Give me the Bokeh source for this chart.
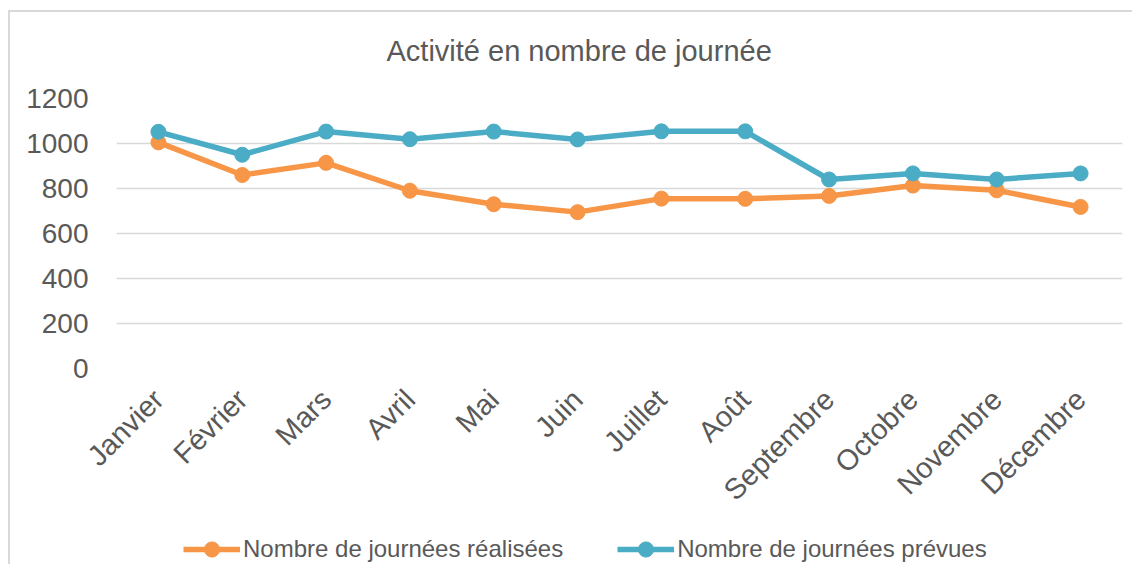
import math
from bokeh.plotting import figure
from bokeh.layouts import column
from bokeh.models import (ColumnDataSource, Range1d, FixedTicker, Legend, LegendItem)
from bokeh.embed import file_html
from bokeh.resources import INLINE

months = ["Janvier", "Février", "Mars", "Avril", "Mai", "Juin", "Juillet", "Août",
          "Septembre", "Octobre", "Novembre", "Décembre"]
realisees = [1005, 860, 914, 790, 730, 695, 755, 754, 767, 813, 792, 718]
prevues = [1052, 950, 1053, 1019, 1053, 1018, 1054, 1054, 840, 867, 840, 867]
y_ticks = [0, 200, 400, 600, 800, 1000, 1200]

title_text = "Activité en nombre de journée"
name_real = "Nombre de journées réalisées"
name_prev = "Nombre de journées prévues"

ORANGE = "#F79646"
BLUE = "#4BACC6"
TXT = "#595959"
FONT = "Liberation Sans"

src = ColumnDataSource(dict(m=months, r=realisees, p=prevues))

p = figure(x_range=months, y_range=Range1d(0, 1200), width=1132, height=520,
           output_backend="svg", toolbar_location=None,
           min_border_left=116, min_border_right=10, min_border_top=98, min_border_bottom=152)
p.outline_line_color = None
p.border_fill_color = None
p.background_fill_color = None
p.x_range.range_padding = 0

p.title.text = title_text
p.title.align = "left"
p.title.offset = 270
p.title.standoff = 64
p.title.text_font = FONT
p.title.text_font_size = "29px"
p.title.text_font_style = "normal"
p.title.text_color = TXT

p.yaxis.ticker = FixedTicker(ticks=y_ticks)
p.yaxis.axis_line_color = None
p.yaxis.major_tick_line_color = None
p.yaxis.minor_tick_line_color = None
p.yaxis.major_label_text_font = FONT
p.yaxis.major_label_text_font_size = "28px"
p.yaxis.major_label_text_color = TXT
p.yaxis.major_label_standoff = 22

p.xaxis.axis_line_color = None
p.xaxis.major_tick_line_color = None
p.xaxis.major_label_orientation = math.pi / 4
p.xaxis.major_label_text_font = FONT
p.xaxis.major_label_text_font_size = "29px"
p.xaxis.major_label_text_color = TXT
p.xaxis.major_label_standoff = 20

p.xgrid.grid_line_color = None
p.ygrid.grid_line_color = "#D9D9D9"
p.ygrid.grid_line_width = 1.5

p.line("m", "r", source=src, line_color=ORANGE, line_width=5.5)
p.scatter("m", "r", source=src, size=15, fill_color=ORANGE, line_color=ORANGE)
p.line("m", "p", source=src, line_color=BLUE, line_width=5.5)
p.scatter("m", "p", source=src, size=15, fill_color=BLUE, line_color=BLUE)

# legend strip (its frame is aligned with the main frame by the column layout)
lg = figure(width=1132, height=44, x_range=Range1d(0, 1), y_range=Range1d(0, 1),
            output_backend="svg", toolbar_location=None,
            min_border_left=0, min_border_right=0, min_border_top=0, min_border_bottom=0)
lg.axis.visible = False
lg.grid.visible = False
lg.outline_line_color = None
lg.border_fill_color = None
lg.background_fill_color = None
e = ColumnDataSource(dict(x=[-10], y=[-10]))
d1 = lg.line("x", "y", source=e, line_color=ORANGE, line_width=5.5)
s1 = lg.scatter("x", "y", source=e, size=15, fill_color=ORANGE, line_color=ORANGE)
d2 = lg.line("x", "y", source=e, line_color=BLUE, line_width=5.5)
s2 = lg.scatter("x", "y", source=e, size=15, fill_color=BLUE, line_color=BLUE)

legend = Legend(items=[LegendItem(label=name_real, renderers=[d1, s1]),
                       LegendItem(label=name_prev, renderers=[d2, s2])],
                orientation="horizontal", location=(67, -4),
                border_line_color=None, background_fill_alpha=0,
                label_text_font=FONT, label_text_font_size="24px", label_text_color=TXT,
                glyph_width=57, glyph_height=38, label_standoff=3, spacing=54,
                padding=0, margin=0)
lg.add_layout(legend, "center")

layout = column(p, lg, spacing=0)
layout.styles = {"background": "linear-gradient(#D9D9D9,#D9D9D9) 8px 10px / 2px 800px no-repeat, "
                               "linear-gradient(#D9D9D9,#D9D9D9) 8px 10px / 1400px 2px no-repeat, #FFFFFF"}

open("out.html", "w").write(file_html(layout, INLINE))
